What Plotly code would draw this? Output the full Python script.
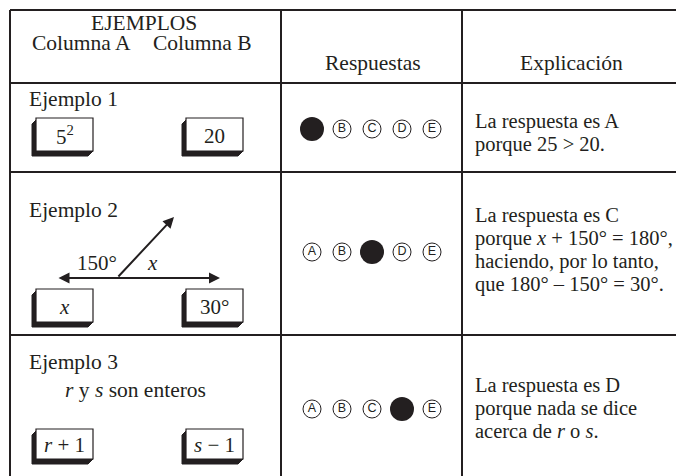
import plotly.graph_objects as go

# ---------------- data ----------------
header_examples = "EJEMPLOS"
header_columns = ["Columna A", "Columna B"]
header_answers = "Respuestas"
header_explanation = "Explicación"

example_titles = ["Ejemplo 1", "Ejemplo 2", "Ejemplo 3"]
column_a_values = ["5<sup>2</sup>", "<i>x</i>", "<i>r</i> + 1"]
column_b_values = ["20", "30°", "<i>s</i> − 1"]
answer_letters = ["A", "B", "C", "D", "E"]
correct_answers = ["A", "C", "D"]
explanations = [
    ["La respuesta es A", "porque 25 > 20."],
    ["La respuesta es C", "porque <i>x</i> + 150° = 180°,",
     "haciendo, por lo tanto,", "que 180° – 150° = 30°."],
    ["La respuesta es D", "porque nada se dice", "acerca de <i>r</i> o <i>s</i>."],
]
angle_labels = ["150°", "<i>x</i>"]
example3_note = "<i>r</i> y <i>s</i> son enteros"

# ---------------- layout constants (pixels) ----------------
W, H = 676, 476
INK = "#231f20"
SERIF = "Liberation Serif, Times New Roman, serif"
SANS = "Liberation Sans, Arial, sans-serif"
FS = 20.5
FS_HEAD = 21.5

x_left, x_div1, x_div2 = 10, 281, 462
y_top, y_head, y_r1, y_r2 = 10, 83, 172, 335

row_title_y = [99, 210, 362]
box_y = [(118, 151), (289, 322), (429, 459)]
box_a_x = (36, 93)
box_b_x = (186, 243)
circle_y = [129, 252, 409]
circle_x = [312, 342, 372, 402, 432]
expl_y0 = [121, 215, 385]
expl_dy = 23.2
expl_x = 473

fig = go.Figure()
shapes = []
annotations = []

def line(x0, y0, x1, y1, w=2):
    shapes.append(dict(type="line", x0=x0, y0=y0, x1=x1, y1=y1,
                       line=dict(color=INK, width=w), layer="above"))

# grid
line(x_left, y_top, W + 5, y_top)
line(x_left, y_top, x_left, H + 5)
line(x_div1, y_top, x_div1, H + 5)
line(x_div2, y_top, x_div2, H + 5)
for yy in (y_head, y_r1, y_r2):
    line(x_left, yy, W + 5, yy)

def text(x, y, s, size=FS, xanchor="center", font=SERIF):
    annotations.append(dict(x=x, y=y, text=s, showarrow=False, xanchor=xanchor,
                            yanchor="middle", font=dict(family=font, size=size, color=INK)))

# header
text(144, 23, header_examples, size=FS_HEAD)
text(81, 43, header_columns[0], size=FS_HEAD)
text(202, 43, header_columns[1], size=FS_HEAD)
text(373, 63, header_answers, size=FS_HEAD)
text(571, 63, header_explanation, size=FS_HEAD)

# boxes with 3D shadow
def box(x0, x1, y0, y1, label):
    d = 5
    path = (f"M {x0},{y0+2} L {x0-d+1},{y0+d+1} L {x0-d+1},{y1+d} "
            f"L {x1-d},{y1+d} L {x1},{y1} L {x0},{y1} Z")
    shapes.append(dict(type="path", path=path, fillcolor=INK,
                       line=dict(color=INK, width=1), layer="above"))
    shapes.append(dict(type="rect", x0=x0, x1=x1, y0=y0, y1=y1, fillcolor="white",
                       line=dict(color=INK, width=1.2), layer="above"))
    text((x0 + x1) / 2, (y0 + y1) / 2 + 1, label, size=21)

for i in range(3):
    text(27, row_title_y[i], example_titles[i], xanchor="left", size=21.5)
    box(box_a_x[0], box_a_x[1], box_y[i][0], box_y[i][1], column_a_values[i])
    box(box_b_x[0], box_b_x[1], box_y[i][0], box_y[i][1], column_b_values[i])
    for k, s in enumerate(explanations[i]):
        text(expl_x, expl_y0[i] + k * expl_dy, s, xanchor="left")

# example 2 diagram
annotations.append(dict(x=220, y=278, ax=57, ay=278, xref="x", yref="y", axref="x", ayref="y",
                        text="", showarrow=True, arrowhead=2, arrowside="end+start",
                        arrowsize=1.1, arrowwidth=2, arrowcolor=INK))
annotations.append(dict(x=174, y=217, ax=117, ay=278, xref="x", yref="y", axref="x", ayref="y",
                        text="", showarrow=True, arrowhead=2, arrowside="end",
                        arrowsize=1.1, arrowwidth=2, arrowcolor=INK))
text(97, 263, angle_labels[0], size=21)
text(152, 263, angle_labels[1], size=21)
text(135, 390, example3_note, size=21.5)

# answer circles
for i in range(3):
    open_x = [circle_x[k] for k, L in enumerate(answer_letters) if L != correct_answers[i]]
    open_t = [L for L in answer_letters if L != correct_answers[i]]
    fill_x = [circle_x[answer_letters.index(correct_answers[i])]]
    fig.add_trace(go.Scatter(x=open_x, y=[circle_y[i]] * len(open_x), mode="markers+text",
                             text=open_t, textposition="middle center",
                             textfont=dict(family=SANS, size=12.5, color=INK),
                             marker=dict(size=18, color="white", line=dict(color=INK, width=1)),
                             hoverinfo="skip", showlegend=False))
    fig.add_trace(go.Scatter(x=fill_x, y=[circle_y[i]], mode="markers",
                             marker=dict(size=24, color=INK, line=dict(width=0)),
                             hoverinfo="skip", showlegend=False))

fig.update_layout(
    width=W, height=H, margin=dict(l=0, r=0, t=0, b=0),
    paper_bgcolor="white", plot_bgcolor="white",
    xaxis=dict(range=[0, W], visible=False, fixedrange=True),
    yaxis=dict(range=[H, 0], visible=False, fixedrange=True),
    shapes=shapes, annotations=annotations, showlegend=False,
)
fig.write_html("out.html", config={"displayModeBar": False},
               post_script="document.body.style.margin='0px';document.body.style.overflow='hidden';")
